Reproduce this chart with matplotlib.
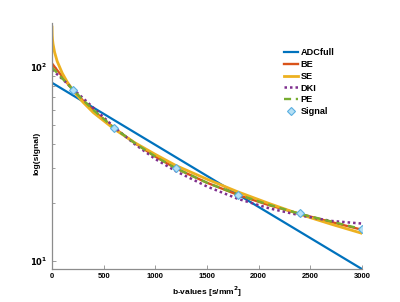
import matplotlib
matplotlib.use("Agg")
import matplotlib.pyplot as plt
from matplotlib.ticker import NullFormatter, LogLocator

b_adc = [0, 3000]
adc = [82.7, 9.1]

b_be = [0, 50, 100, 150, 200, 300, 400, 600, 800, 1000, 1200, 1500, 1800, 2100, 2400, 2700, 3000]
be = [104, 96, 89, 82, 76.5, 67, 59.5, 48.5, 40.5, 34.5, 30.0, 25.3, 21.9, 19.4, 17.5, 15.9, 14.5]

b_se = [0, 2, 5, 10, 25, 50, 100, 150, 200, 300, 400, 600, 800, 1000, 1200, 1500, 1800, 2100, 2400, 2700, 3000]
se = [160, 145, 138, 131, 118.8, 106.7, 92.5, 83.0, 76.0, 65.7, 58.1, 47.9, 40.7, 35.4, 31.0, 26.4, 22.7, 19.8, 17.4, 15.5, 13.9]

b_dki = [0, 100, 200, 300, 400, 600, 800, 1000, 1200, 1500, 1800, 2100, 2400, 2700, 3000]
dki = [96.5, 86.5, 77, 69, 61.5, 49, 40, 33.5, 29.0, 24.2, 20.9, 18.7, 17.2, 16.1, 15.6]

b_pe = [0, 50, 100, 150, 200, 300, 400, 600, 800, 1000, 1200, 1500, 1800, 2100, 2400, 2700, 3000]
pe = [99, 93, 87, 81.5, 76.5, 67.5, 60, 48.5, 40.5, 34.5, 30.0, 25.3, 22.0, 19.5, 17.5, 16.0, 14.6]

b_sig = [200, 600, 1200, 1800, 2400, 3000]
sig = [76.1, 48.5, 30.2, 21.9, 17.6, 14.6]

xticks = [0, 500, 1000, 1500, 2000, 2500, 3000]

fig = plt.figure(figsize=(4.0, 3.02), dpi=100)
ax = fig.add_axes([0.13, 0.109, 0.775, 0.815])

ax.plot(b_adc, adc, color="#0072BD", lw=1.6, label="ADCfull")
ax.plot(b_be, be, color="#D95319", lw=1.7, label="BE")
ax.plot(b_se, se, color="#EDB120", lw=2.0, label="SE")
ax.plot(b_dki, dki, color="#7E2F8E", lw=1.8, ls=(0, (1, 1.2)), label="DKI")
ax.plot(b_pe, pe, color="#77AC30", lw=1.7, ls=(0, (3, 2)), label="PE")
ax.plot(b_sig, sig, ls="none", marker="D", ms=4.5, mfc="#B5E0F5", mec="#5AAFE0", mew=0.8, label="Signal")

ax.set_yscale("log")
ax.set_xlim(0, 3000)
ax.set_ylim(9.1, 168)
ax.set_xticks(xticks)
ax.set_xticklabels([str(t) for t in xticks], fontsize=5.5, fontweight="bold", family="Liberation Sans")
ax.set_yticks([10, 100])
ax.set_yticklabels([r"$\mathbf{10^1}$", r"$\mathbf{10^2}$"], fontsize=6)
ax.yaxis.set_minor_locator(LogLocator(base=10, subs=range(2, 10)))
ax.yaxis.set_minor_formatter(NullFormatter())

for s in ["top", "right"]:
    ax.spines[s].set_visible(False)
for s in ["left", "bottom"]:
    ax.spines[s].set_color("#8c8c8c")
    ax.spines[s].set_linewidth(0.9)
ax.tick_params(which="both", direction="in", color="#8c8c8c", width=0.6, pad=3)
ax.tick_params(which="major", length=3)
ax.tick_params(which="minor", length=2)

ax.set_xlabel(r"b-values [s/mm$^\mathbf{2}$]", fontsize=6, fontweight="bold", family="Liberation Sans", labelpad=3)
ax.set_ylabel("log(signal)", fontsize=6, fontweight="bold", family="Liberation Sans")
ax.yaxis.set_label_coords(-0.038, 0.47)

leg = fig.legend(loc="upper left", bbox_to_anchor=(0.702, 0.852), frameon=False,
                 prop={"family": "Liberation Sans", "weight": "bold", "size": 6.6},
                 handlelength=1.5, handletextpad=0.25, labelspacing=0.3, borderaxespad=0)

fig.savefig("out.png", dpi=100)
